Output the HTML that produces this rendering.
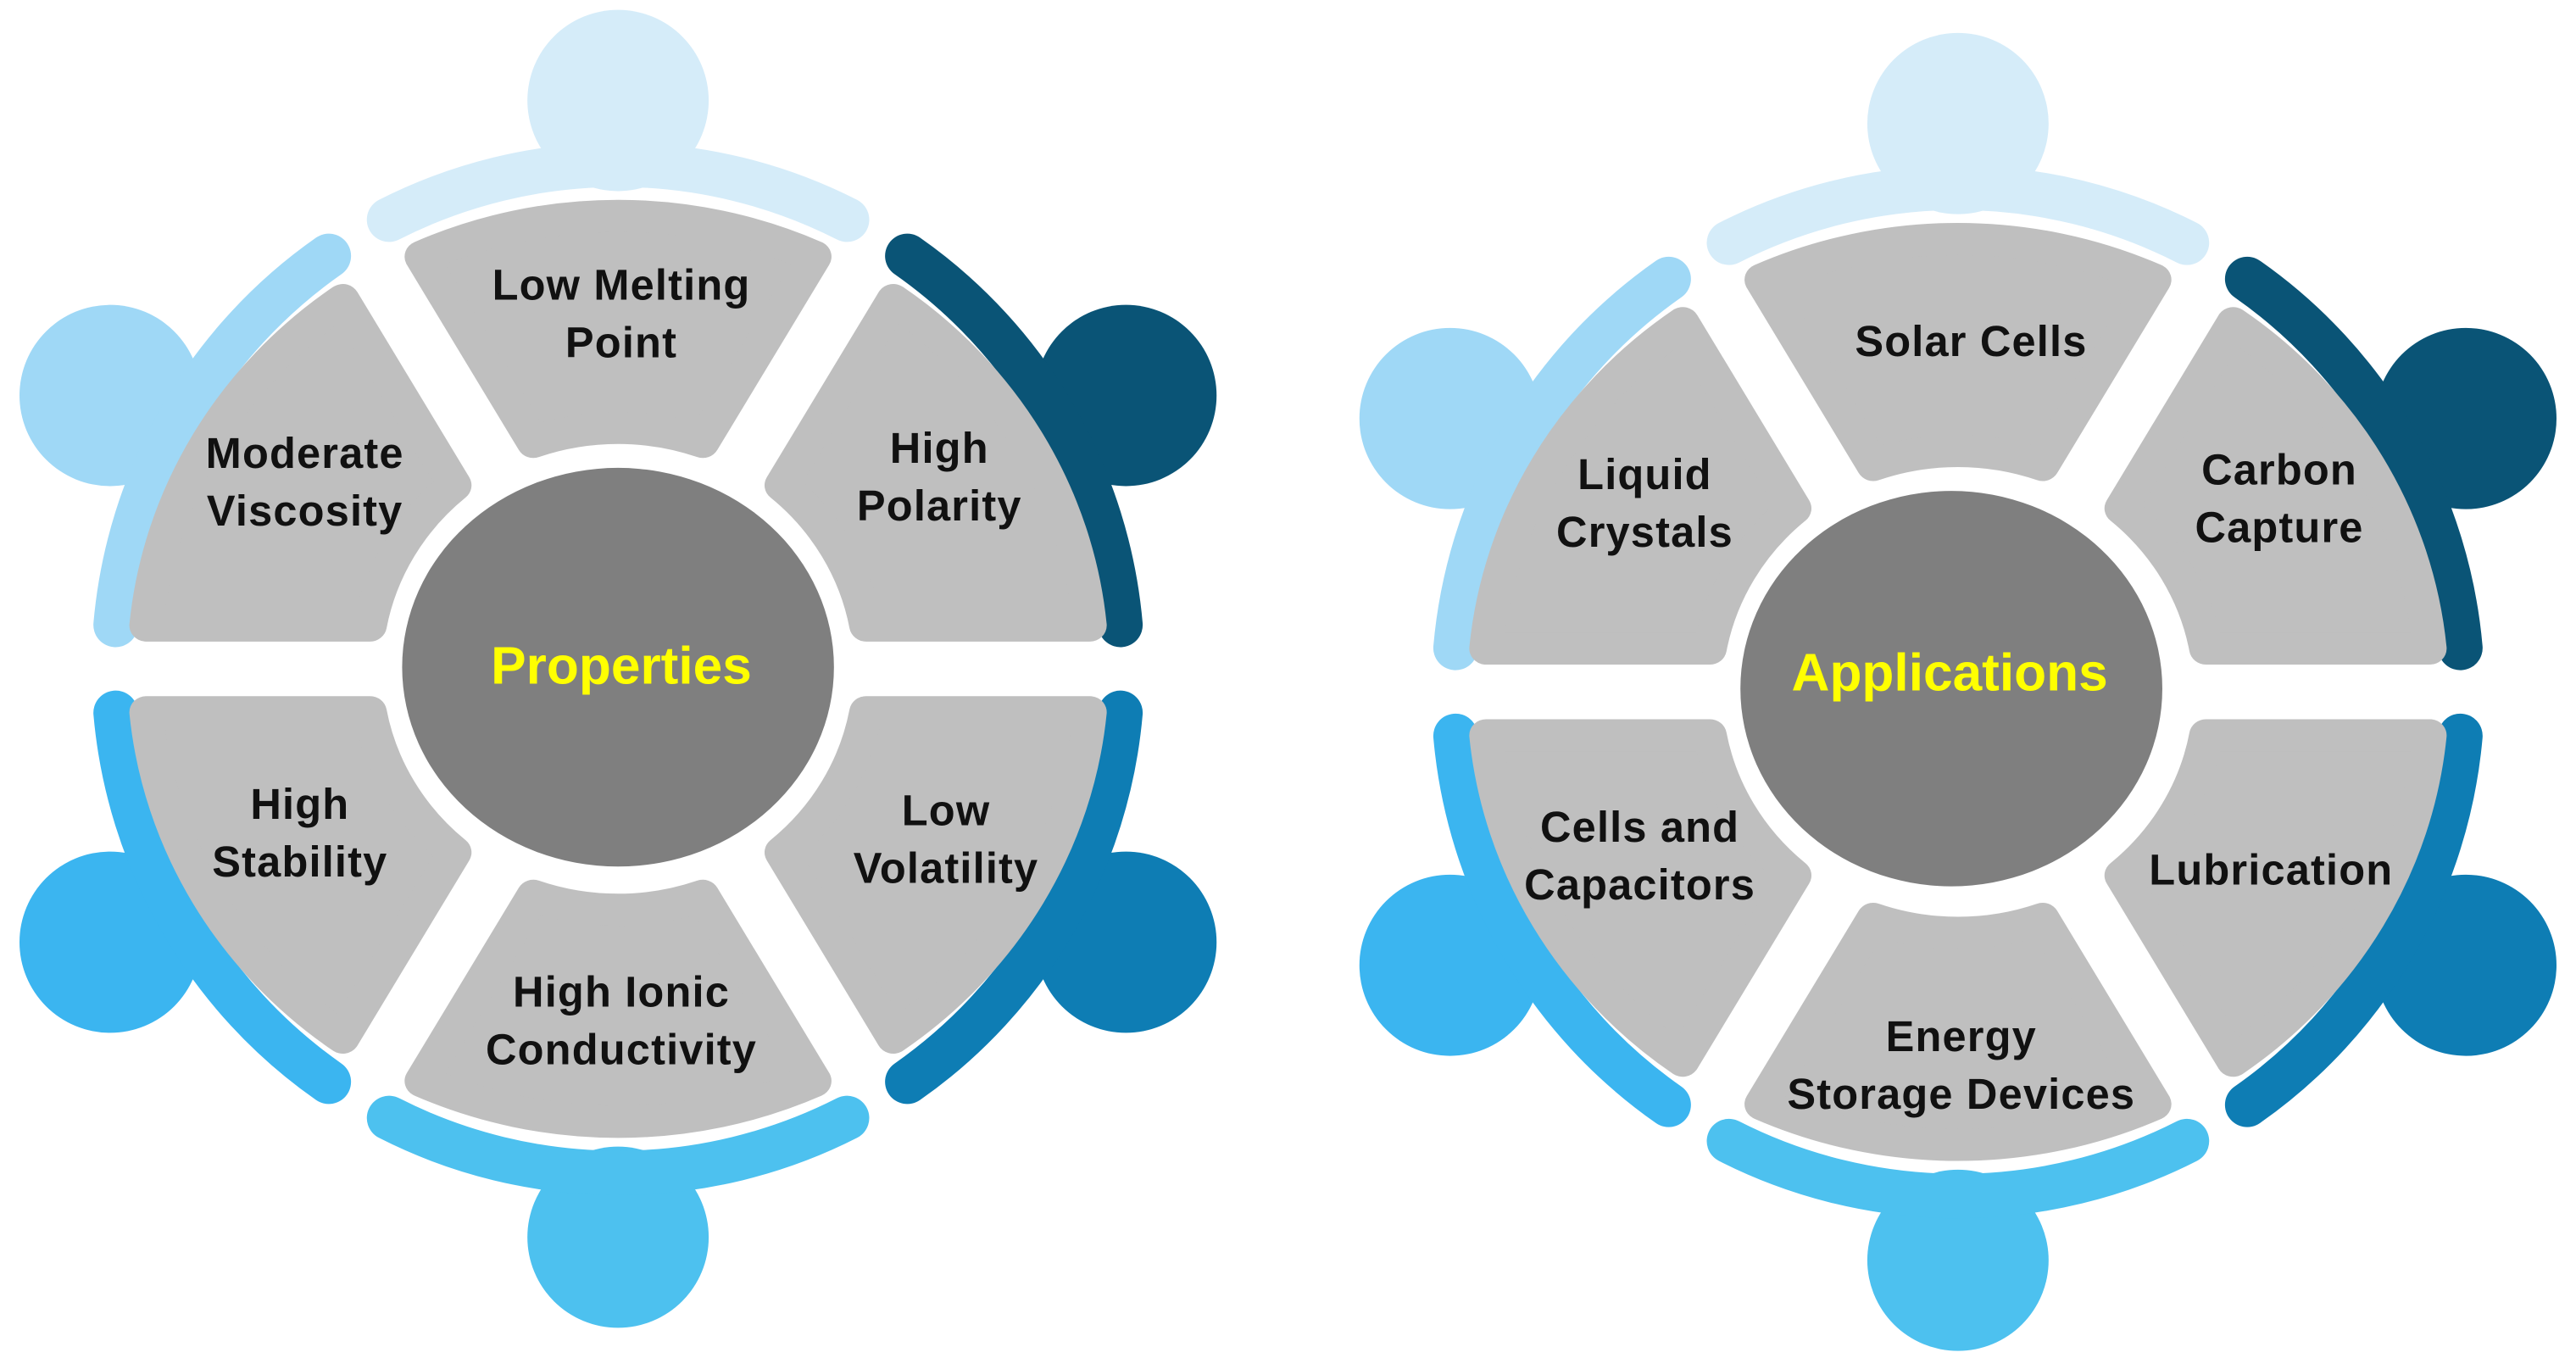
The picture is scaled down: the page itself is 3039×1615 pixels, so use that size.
<!DOCTYPE html>
<html><head><meta charset="utf-8"><style>
html,body{margin:0;padding:0;background:#fff;}
svg{display:block;}
text{font-family:"Liberation Sans",Arial,sans-serif;font-weight:bold;text-anchor:middle;}
.l{font-size:26px;fill:#111;letter-spacing:0.6px;}
.c{font-size:32px;fill:#ffff00;}
</style></head><body>
<svg id="s" width="3039" height="1615" viewBox="0 0 1563 831" preserveAspectRatio="none" xmlns="http://www.w3.org/2000/svg">
<g id="shapes"></g>
<ellipse cx="375" cy="405" rx="131" ry="121" fill="#7f7f7f"/>
<ellipse cx="1184" cy="418" rx="128" ry="120" fill="#7f7f7f"/>
<text class="c" x="377" y="415">Properties</text>
<text class="c" x="1183" y="419">Applications</text>
<text class="l" x="377" y="182">Low Melting</text>
<text class="l" x="377" y="217">Point</text>
<text class="l" x="185" y="284">Moderate</text>
<text class="l" x="185" y="319">Viscosity</text>
<text class="l" x="570" y="281">High</text>
<text class="l" x="570" y="316">Polarity</text>
<text class="l" x="182" y="497">High</text>
<text class="l" x="182" y="532">Stability</text>
<text class="l" x="574" y="501">Low</text>
<text class="l" x="574" y="536">Volatility</text>
<text class="l" x="377" y="611">High Ionic</text>
<text class="l" x="377" y="646">Conductivity</text>
<text class="l" x="1196" y="216">Solar Cells</text>
<text class="l" x="998" y="297">Liquid</text>
<text class="l" x="998" y="332">Crystals</text>
<text class="l" x="1383" y="294">Carbon</text>
<text class="l" x="1383" y="329">Capture</text>
<text class="l" x="995" y="511">Cells and</text>
<text class="l" x="995" y="546">Capacitors</text>
<text class="l" x="1378" y="537">Lubrication</text>
<text class="l" x="1190" y="638">Energy</text>
<text class="l" x="1190" y="673">Storage Devices</text>
</svg>
<script>
(function(){
var root=document.getElementById('shapes'),NS="http://www.w3.org/2000/svg";
function el(p,t,a){var e=document.createElementNS(NS,t);for(var k in a)e.setAttribute(k,a[k]);p.appendChild(e);return e;}
function P(cx,cy,r,a){a=a*Math.PI/180;return (cx+r*Math.cos(a)).toFixed(2)+" "+(cy-r*Math.sin(a)).toFixed(2);}
var cols={90:"#d5ecf9",30:"#0a5476","-30":"#0e7db4","-90":"#4dc1ef",210:"#3bb5f0",150:"#9fd8f6"};
var hang={90:90,30:28.3,"-30":-28.3,"-90":-90,210:208.3,150:151.7};
function diagram(cx,cy){
  var cs=[90,30,-30,-90,210,150];
  cs.forEach(function(c){
    var col=cols[c];
    var hd=(c==90||c==-90)?345:350;
    var ha=hang[c];
    var hx=cx+hd*Math.cos(ha*Math.PI/180),hy=cy-hd*Math.sin(ha*Math.PI/180);
    el(root,'circle',{cx:hx,cy:hy,r:55,fill:col});
    var r=306,sp=(c==90||c==-90)?27:25;
    el(root,'path',{d:"M"+P(cx,cy,r,c-sp)+" A"+r+" "+r+" 0 0 0 "+P(cx,cy,r,c+sp),fill:"none",stroke:col,"stroke-width":27,"stroke-linecap":"round"});
  });
  var gg=el(root,'g',{transform:"translate("+cx+" "+cy+") scale(1.02 0.975) translate("+(-cx)+" "+(-cy)+")"});
  cs.forEach(function(c){
    var a0=c-30,a1=c+30,s=10,g2=17,ro=292-s,ri=140+s,d=g2+s;
    var dO=Math.asin(d/ro)*180/Math.PI,dI=Math.asin(d/ri)*180/Math.PI;
    var p="M"+P(cx,cy,ri,a0+dI)+" L"+P(cx,cy,ro,a0+dO)+" A"+ro+" "+ro+" 0 0 0 "+P(cx,cy,ro,a1-dO)+" L"+P(cx,cy,ri,a1-dI)+" A"+ri+" "+ri+" 0 0 1 "+P(cx,cy,ri,a0+dI)+" Z";
    el(gg,'path',{d:p,fill:"#bfbfbf",stroke:"#bfbfbf","stroke-width":2*s,"stroke-linejoin":"round"});
  });
}
diagram(375,406);
diagram(1188,420);
})();
</script>
</body></html>
